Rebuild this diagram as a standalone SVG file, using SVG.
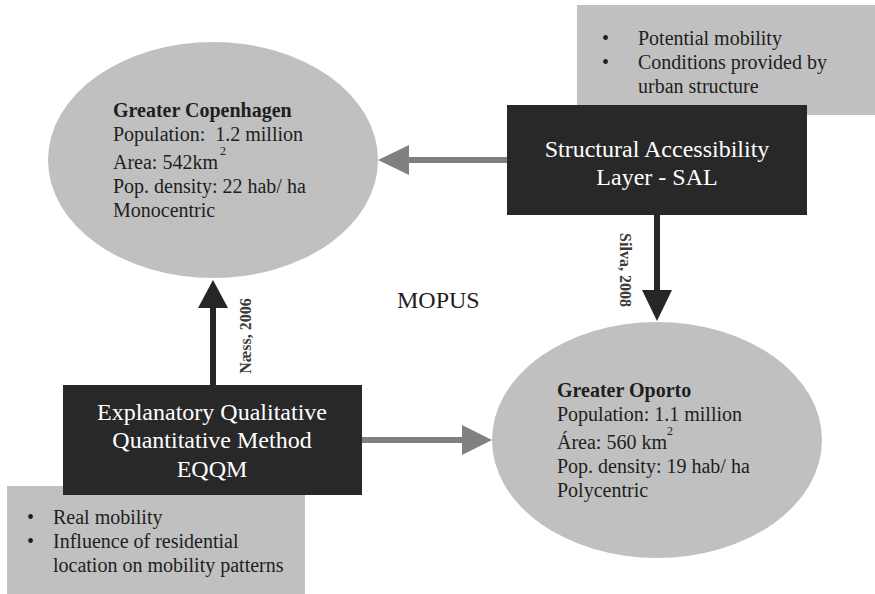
<svg xmlns="http://www.w3.org/2000/svg" width="875" height="594" viewBox="0 0 875 594">
<style>
.t{font-family:"Liberation Serif","Times New Roman",serif;fill:#1e1e1e;font-size:20px;white-space:pre}
.b{font-weight:bold}
.w{font-family:"Liberation Serif","Times New Roman",serif;fill:#ffffff;font-size:24px;text-anchor:middle}
.sup{font-size:12px}
.lab{font-family:"Liberation Serif","Times New Roman",serif;fill:#3a3a3a;font-size:16px;font-weight:bold;text-anchor:middle}
.note{fill:#c0c0c0}
.ell{fill:#c0c0c0}
.box{fill:#282828}
.dk{stroke:#262626;stroke-width:6;fill:none}
.gr{stroke:#808080;stroke-width:6;fill:none}
</style>
<rect width="875" height="594" fill="#ffffff"/>
<g id="note-sal">
<rect class="note" x="577" y="5" width="298" height="110"/>
<text class="t" x="602" y="45">•</text>
<text class="t" x="638" y="45">Potential mobility</text>
<text class="t" x="602" y="69">•</text>
<text class="t" x="638" y="69">Conditions provided by</text>
<text class="t" x="638" y="93">urban structure</text>
</g>
<g id="note-eqqm">
<rect class="note" x="7" y="486" width="298" height="108"/>
<text class="t" x="27" y="524">•</text>
<text class="t" x="53" y="524">Real mobility</text>
<text class="t" x="27" y="548">•</text>
<text class="t" x="53" y="548">Influence of residential</text>
<text class="t" x="53" y="572">location on mobility patterns</text>
</g>
<g id="copenhagen">
<ellipse class="ell" cx="213" cy="160" rx="165" ry="118"/>
<text class="t b" x="113" y="117">Greater Copenhagen</text>
<text class="t" x="113" y="141" xml:space="preserve">Population:  1.2 million</text>
<text class="t" x="113" y="169">Area: 542km</text>
<text class="t sup" x="220" y="155">2</text>
<text class="t" x="113" y="193">Pop. density: 22 hab/ ha</text>
<text class="t" x="113" y="217">Monocentric</text>
</g>
<g id="oporto">
<ellipse class="ell" cx="657" cy="440" rx="165" ry="118"/>
<text class="t b" x="557" y="397">Greater Oporto</text>
<text class="t" x="557" y="421">Population: 1.1 million</text>
<text class="t" x="557" y="449">Área: 560 km</text>
<text class="t sup" x="667" y="435">2</text>
<text class="t" x="557" y="473">Pop. density: 19 hab/ ha</text>
<text class="t" x="557" y="497">Polycentric</text>
</g>
<g id="connectors">
<line class="gr" x1="507" y1="160" x2="405" y2="160"/>
<polygon fill="#808080" points="378,160 409,145 409,175"/>
<line class="dk" x1="657" y1="215" x2="657" y2="293"/>
<polygon fill="#262626" points="657,321 642,290 672,290"/>
<line class="dk" x1="213" y1="385" x2="213" y2="305"/>
<polygon fill="#262626" points="213,280 198,308 228,308"/>
<line class="gr" x1="362" y1="440" x2="465" y2="440"/>
<polygon fill="#808080" points="492,440 462,425 462,455"/>
<text class="lab" transform="translate(620,270) rotate(90)">Silva, 2008</text>
<text class="lab" transform="translate(251,336) rotate(-90)">Næss, 2006</text>
</g>
<g id="sal">
<rect class="box" x="507" y="105" width="300" height="110"/>
<text class="w" x="657" y="157">Structural Accessibility</text>
<text class="w" x="657" y="185">Layer - SAL</text>
</g>
<g id="eqqm">
<rect class="box" x="63" y="385" width="299" height="110"/>
<text class="w" x="212" y="420">Explanatory Qualitative</text>
<text class="w" x="212" y="448">Quantitative Method</text>
<text class="w" x="212" y="477">EQQM</text>
</g>
<g id="mopus">
<text class="t" x="397" y="308" style="font-size:24px">MOPUS</text>
</g>
</svg>
